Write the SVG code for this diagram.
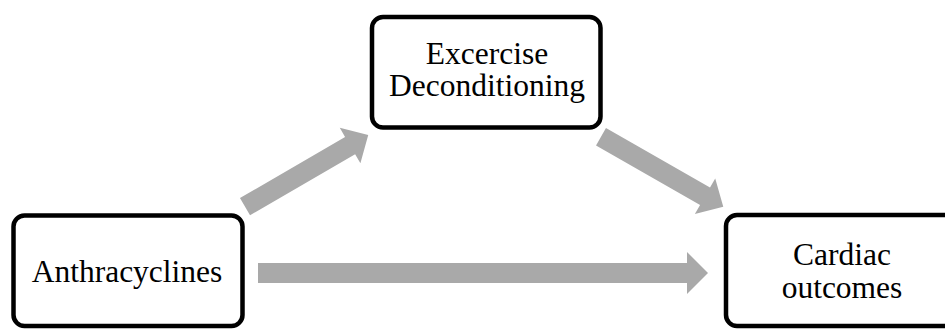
<svg xmlns="http://www.w3.org/2000/svg" width="945" height="329" viewBox="0 0 945 329">
<style>
.box{fill:#fff;stroke:#000;stroke-width:4.5}
.lbl{font-family:"Liberation Serif","Times New Roman",serif;font-size:31.5px;fill:#000;text-anchor:middle}
.arr{fill:#A9A9A9}
</style>
<rect width="945" height="329" fill="#fff"/>
<g id="connectors">
<polygon class="arr" transform="translate(245,206.7) rotate(-30.2)" points="0,-10 121.6,-10 121.6,-20.5 142.6,0 121.6,20.5 121.6,10 0,10"/>
<polygon class="arr" transform="translate(601,136.7) rotate(29.8)" points="0,-10 119.9,-10 119.9,-20.5 140.9,0 119.9,20.5 119.9,10 0,10"/>
<polygon class="arr" points="258,263 687,263 687,252 708,273 687,294 687,283 258,283"/>
</g>
<g id="anthracyclines">
<rect class="box" x="13.5" y="215.5" width="229" height="110.5" rx="11"/>
<text class="lbl" x="127" y="282">Anthracyclines</text>
</g>
<g id="exercise">
<rect class="box" x="372" y="17" width="228.5" height="110.5" rx="11"/>
<text class="lbl" x="487" y="64">Excercise</text>
<text class="lbl" x="487" y="96">Deconditioning</text>
</g>
<g id="cardiac">
<rect class="box" x="726" y="215" width="229" height="111" rx="11"/>
<text class="lbl" x="842" y="265">Cardiac</text>
<text class="lbl" x="842" y="298">outcomes</text>
</g>
</svg>
